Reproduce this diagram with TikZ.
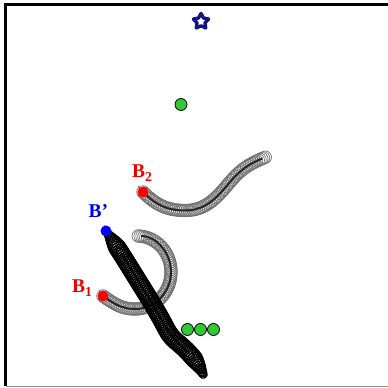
\documentclass[tikz,border=0pt]{standalone}
\usepackage{fontspec}
\setmainfont{Liberation Serif}
\usetikzlibrary{shapes.geometric,decorations.markings}

\definecolor{starblue}{RGB}{20,20,128}
\definecolor{dotgreen}{RGB}{50,200,50}
\definecolor{labelred}{RGB}{235,0,0}
\definecolor{labelblue}{RGB}{0,0,240}

\tikzset{
  ringgray/.style={draw=black!55, line width=0.7pt},
  ringblack/.style={draw=black, line width=1.3pt},
  % a chain of overlapping grey rings laid along the path, drawn under it
  grayworm/.style={
    preaction={decorate, decoration={markings,
      mark=between positions 0 and 1 step 1.9pt with {\draw[ringgray] (0,0) circle (6.3pt);}}},
    draw=black!85, line width=2pt, shorten >=4pt},
  % a chain of black rings, thin at both ends
  blackworm/.style={
    decoration={markings,
      mark=between positions 0 and 1 step 2pt with {
        \pgfmathsetmacro\ringd{\pgfkeysvalueof{/pgf/decoration/mark info/distance from start}}
        \pgfmathsetmacro\ringr{min(8.5,3+\ringd/3.5,3.5+(\pgfdecoratedpathlength-\ringd)/4)}
        \draw[ringblack] (0,0) circle (\ringr pt);}},
    postaction={decorate}},
  starline/.style={draw=starblue, line width=3.4pt, line join=round, fill=white},
  enddot/.style={circle, inner sep=0pt, minimum size=11pt},
  greendot/.style={circle, draw=black, line width=0.8pt, fill=dotgreen, inner sep=0pt, minimum size=12pt},
  blabel/.style={anchor=base west, inner sep=0pt, font=\fontsize{19.5}{20}\selectfont\bfseries},
  tail/.style={draw=black!60, line width=0.8pt}
}

\begin{document}
\begin{tikzpicture}[x=1pt, y=1pt]
\useasboundingbox (0,0) rectangle (388,388);

% frame
\draw[black!45, line width=1.5pt] (5.5,1.5) -- (392,1.5);
\draw[black, line width=3pt] (392,383.5) -- (5.5,383.5) -- (5.5,1.5);

% star outline
\coordinate (star) at (201,366.5);
\begin{scope}[shift={(star)}]
  \draw[starline] (90:8) -- (126:4.3) -- (162:8) -- (198:4.3) -- (234:8) -- (270:4.3)
    -- (306:8) -- (342:4.3) -- (18:8) -- (54:4.3) -- cycle;
\end{scope}

% green markers
\node[greendot] (g0) at (181,283.5) {};
\node[greendot] (g1) at (187.5,58.5) {};
\node[greendot] (g2) at (200.5,58.5) {};
\node[greendot] (g3) at (213.5,58.5) {};

% end points
\coordinate (pB2) at (143,196);
\coordinate (pB1) at (103,92);
\coordinate (pBp) at (106,157);

% tails before the end points
\draw[tail] (pB2) -- ++(-5,6);
\draw[tail] (pB1) -- ++(-4,6);
\draw[tail] (pBp) -- ++(-2,6);

% upper grey chain
\path[grayworm] (pB2) to[out=-45,in=180] (185,177.5) to[out=0,in=-130] (230,206)
  to[out=50,in=-158] (266,231);

% hooked grey chain
\path[grayworm] (pB1) to[out=-35,in=180] (135,79) to[out=0,in=-90] (171,116)
  to[out=90,in=0] (137,152);

% black chain
\path[blackworm] (pBp) to[out=-55,in=122] (142,101) to[out=-58,in=118] (167,58)
  to[out=-62,in=135] (186,38) to[out=-45,in=115] (204,12);

% end point dots
\node[enddot, fill=red] (dB2) at (pB2) {};
\node[enddot, fill=red] (dB1) at (pB1) {};
\node[enddot, fill=labelblue] (dBp) at (pBp) {};

% labels
\node[blabel, text=labelred] (lB2) at (132,210) {B\textsubscript{2}};
\node[blabel, text=labelblue] (lBp) at (88.5,170) {B’};
\node[blabel, text=labelred] (lB1) at (72,95) {B\textsubscript{1}};
\end{tikzpicture}
\end{document}
